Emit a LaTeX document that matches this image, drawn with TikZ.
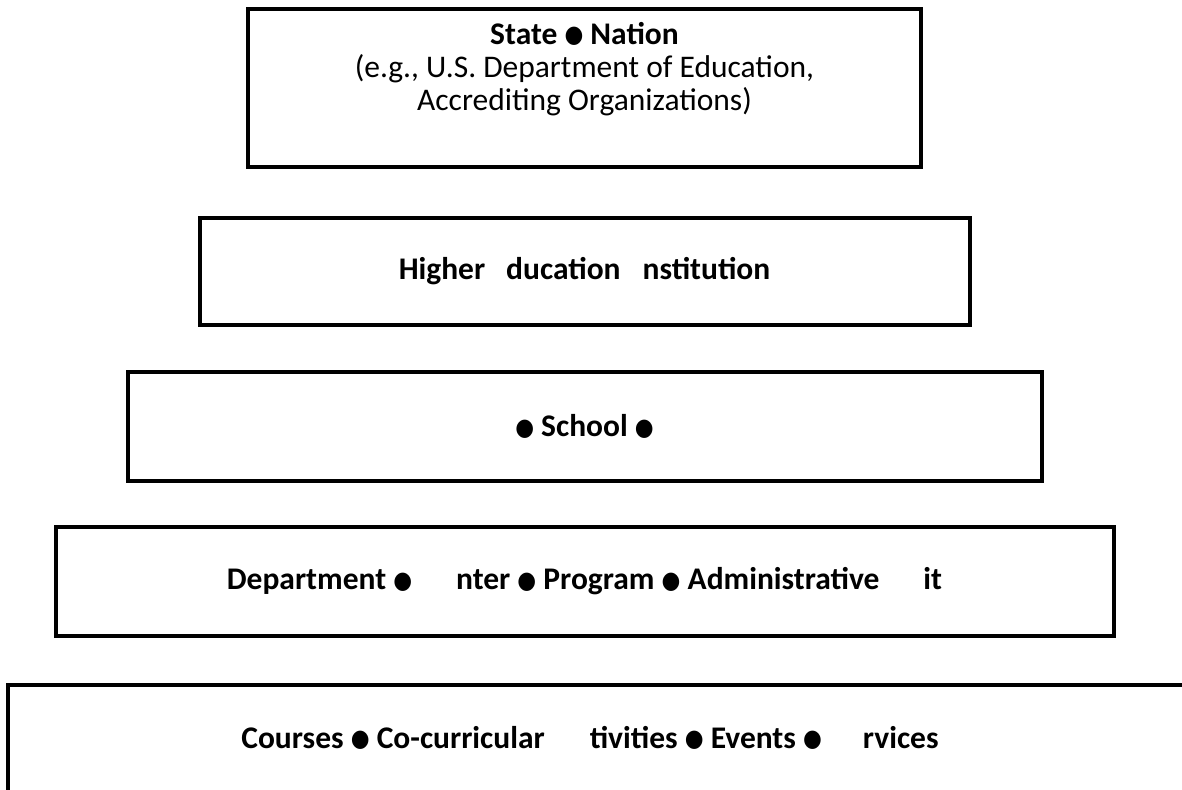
\documentclass[tikz,border=0pt]{standalone}
\usepackage{fontspec}
\setmainfont{Carlito}
\newfontfamily\symfont{DejaVu Sans}
\usetikzlibrary{positioning}
\newcommand{\tierdot}{{\symfont\fontsize{24}{24}\selectfont\raisebox{1.5pt}{\scalebox{0.9}[1]{●}}}}

\begin{document}
\begin{tikzpicture}[x=1pt,y=1pt,
  tier/.style={draw,line width=4pt,rectangle,outer sep=0pt,inner sep=0pt,
    font=\fontsize{31.5}{33}\selectfont\bfseries},
  tiertext/.style={inner sep=0pt,align=center,font=\fontsize{31.5}{33}\selectfont}]
  \useasboundingbox (0,0) rectangle (1182,-789);
  \node[tier,minimum width=673pt,minimum height=158pt] (state) at (584.5,-88) {};
  \node[tiertext,anchor=north] (statetext) at ([yshift=-13pt]state.north)
    {\textbf{State \tierdot{} Nation}\\(e.g., U.S. Department of Education,\\Accrediting Organizations)};
  \node[tier,minimum width=770pt,minimum height=107pt,below=51pt of state] (hei)
    {Higher\hspace{21pt}ducation\hspace{22pt}nstitution};
  \node[tier,minimum width=914pt,minimum height=109pt,below=47pt of hei] (school)
    {\tierdot{} School \tierdot};
  \node[tier,minimum width=1058pt,minimum height=109pt,below=46pt of school] (dept)
    {Department \tierdot\hspace{44pt}nter \tierdot{} Program \tierdot{} Administrative\hspace{44pt}it};
  \node[tier,anchor=north west,minimum width=1200pt,minimum height=130pt] (activity) at (8,-685) {};
  \node[tiertext,font=\fontsize{31.5}{33}\selectfont\bfseries] (activitytext) at (590,-738)
    {Courses \tierdot{} Co-curricular\hspace{45pt}tivities \tierdot{} Events \tierdot\hspace{41pt}rvices};
\end{tikzpicture}
\end{document}
